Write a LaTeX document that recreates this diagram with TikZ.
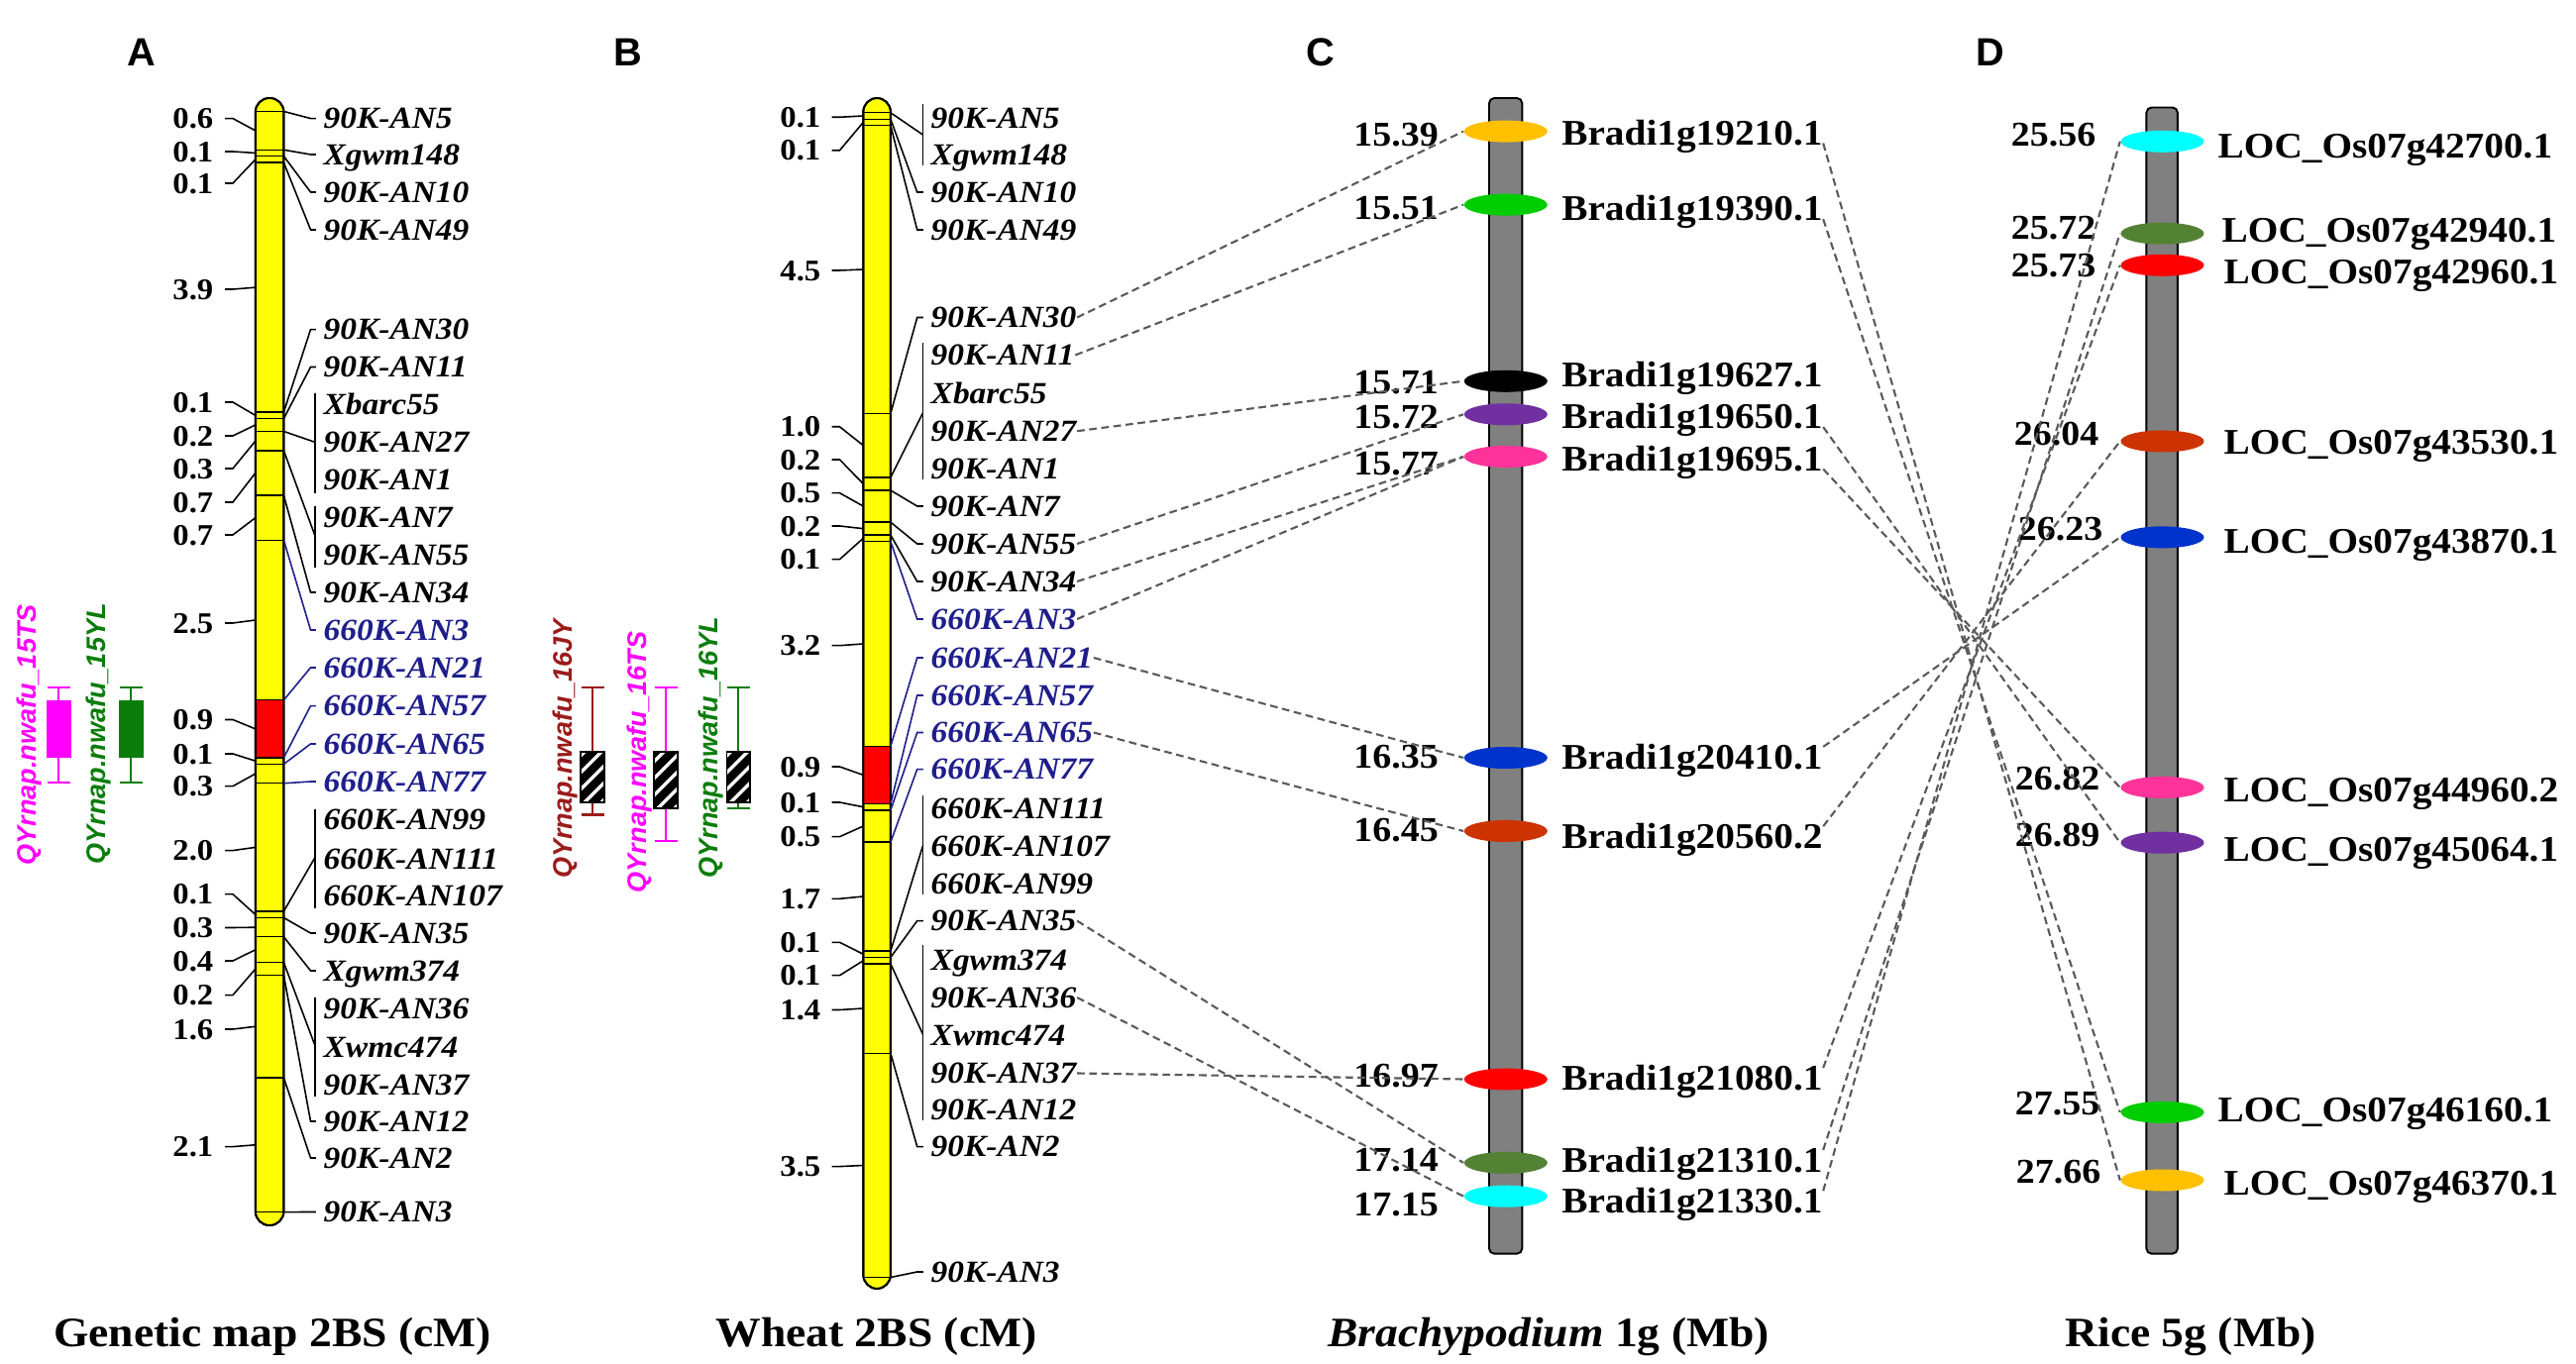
\documentclass[tikz,border=0pt]{standalone}
\usepackage{fontspec}
\setmainfont{Liberation Serif}[FakeStretch=1.08]
\newfontfamily\sansA{Liberation Sans}
\usetikzlibrary{shapes.geometric,calc}
\definecolor{mkblue}{HTML}{1E1E8C}
\definecolor{qmag}{HTML}{FF00FF}
\definecolor{qgreen}{HTML}{0B7D0B}
\definecolor{qred}{HTML}{9B1B1B}
\definecolor{chrY}{HTML}{FFFF00}
\definecolor{chrG}{HTML}{808080}
\definecolor{eOrange}{HTML}{FFC000}
\definecolor{eGreen}{HTML}{00CC00}
\definecolor{ePurple}{HTML}{7030A0}
\definecolor{ePink}{HTML}{FF3399}
\definecolor{eBlue}{HTML}{0033CC}
\definecolor{eRust}{HTML}{CC3300}
\definecolor{eRed}{HTML}{FF0000}
\definecolor{eOlive}{HTML}{548235}
\definecolor{eCyan}{HTML}{00FFFF}
\definecolor{dashgray}{HTML}{5A5A5A}
\newcommand{\hatchbox}[4]{%
  \begin{scope}
    \clip (#1,#2) rectangle (#3,#4);
    \fill[black] (#1,#2) rectangle (#3,#4);
    \foreach \k in {0,...,6} \draw[white, line width=1pt] (#1-50+\k*17,#4+3) -- ++(70,-70);
  \end{scope}
  \draw[black, line width=0.5pt] (#1,#2) rectangle (#3,#4);}
\newcommand{\whisk}[4]{% cx, top, bottom, colour
  \draw[#4, line width=0.6pt] (#1,#2) -- (#1,#3) (#1-11.5,#2) -- (#1+11.5,#2) (#1-11.5,#3) -- (#1+11.5,#3);}
\begin{document}
\begin{tikzpicture}[x=0.01cm, y=-0.01cm,
  mk/.style={font=\fontsize{8.8}{10}\selectfont\bfseries\itshape, anchor=west, inner sep=0pt, text height=5.9pt, text depth=0pt},
  lnum/.style={font=\fontsize{8.6}{10}\selectfont\bfseries, anchor=east, inner sep=0pt, text height=5.7pt, text depth=0pt},
  gnum/.style={font=\fontsize{10}{12}\selectfont\bfseries, anchor=east, inner sep=0pt, text height=6.7pt, text depth=0pt},
  gname/.style={font=\fontsize{10.35}{12}\selectfont\bfseries, anchor=west, inner sep=0pt, text height=6.9pt, text depth=0pt},
  ttl/.style={font=\fontsize{12}{14}\selectfont\bfseries, inner sep=0pt, text height=8pt, text depth=0pt},
  plab/.style={font=\sansA\fontsize{11.3}{13}\selectfont\bfseries, inner sep=0pt, text height=8.1pt, text depth=0pt},
  qlab/.style={font=\sansA\fontsize{7.7}{9}\selectfont\bfseries\itshape, rotate=90, inner sep=0pt, text height=5.5pt, text depth=0pt},
  cn/.style={line width=0.45pt},
  tk/.style={line width=0.45pt},
  band/.style={line width=0.4pt},
  chrom/.style={draw=black, line width=0.55pt},
  gene/.style={ellipse, minimum width=0.84cm, minimum height=0.22cm, inner sep=0pt},
  dl/.style={draw=dashgray, line width=0.6pt, dash pattern=on 2.2pt off 1.3pt},
]
\fill[white] (0,0) rectangle (2600,1377);
\useasboundingbox (0,0) rectangle (2600,1377);

% ---------------- panel letters and titles
\node[plab] (pA) at (143,52) {A};
\node[plab] (pB) at (634,52) {B};
\node[plab] (pC) at (1333,52) {C};
\node[plab] (pD) at (2009,52) {D};
\node[ttl] (tA) at (275,1345.4) {Genetic map 2BS (cM)};
\node[ttl] (tB) at (884.5,1345.4) {Wheat 2BS (cM)};
\node[ttl] (tC) at (1563,1345.4) {\textit{Brachypodium} 1g (Mb)};
\node[ttl] (tD) at (2211,1345.4) {Rice 5g (Mb)};

% ---------------- panel A chromosome
\draw[chrom, fill=chrY, rounded corners=4pt] (257.8,99) rectangle (286.4,1237);
\fill[red] (257.8,706.8) rectangle (286.4,765);
\foreach \y in {112.5,151.3,157.7,164.2,416.1,422.6,435.5,454.9,500.1,545.3,706.8,765,771.4,790.8,920,926.5,945.8,971.7,984.6,1088,1223.6}
  \draw[band] (257.8,\y) -- (286.4,\y);
\draw[chrom, rounded corners=4pt] (257.8,99) rectangle (286.4,1237);

\foreach \v/\ly/\my [count=\i] in {0.6/119.6/131.9, 0.1/153/154.5, 0.1/185/161, 3.9/292/290.2, 0.1/406/419.4, 0.2/440/429, 0.3/473/445.2, 0.7/507/477.5, 0.7/540/522.7, 2.5/629/626, 0.9/726.5/735.9, 0.1/761/768.2, 0.3/793.7/781.1, 2.0/858.6/855.4, 0.1/902.7/923.3, 0.3/936.5/936.2, 0.4/970/958.8, 0.2/1004.6/978.2, 1.6/1039/1036.3, 2.1/1157.6/1155.8} {
  \node[lnum] (aL\i) at (216,\ly) {\v};
  \coordinate (aLm\i) at (257.8,\my);
  \draw[tk] ($(aL\i.east)+(11,0)$) -- ++(8,0) -- (aLm\i);
}

\foreach \n/\ly/\my/\t/\c in {aM1/119.6/112.5/90K-AN5/black, aM2/156/151.3/Xgwm148/black, aM3/194/157.7/90K-AN10/black, aM4/232/164.2/90K-AN49/black, aM5/332.6/416.1/90K-AN30/black, aM6/370.5/422.6/90K-AN11/black, aM7/598/500.1/90K-AN34/black, aM8/636/545.3/660K-AN3/mkblue, aM9/674/706.8/660K-AN21/mkblue, aM10/712.6/765/660K-AN57/mkblue, aM11/751/771.4/660K-AN65/mkblue, aM12/789/790.8/660K-AN77/mkblue, aM13/942/926.5/90K-AN35/black, aM14/980/945.8/Xgwm374/black, aM15/1132/984.6/90K-AN12/black, aM16/1169/1088/90K-AN2/black, aM17/1223.5/1223.6/90K-AN3/black} {
  \node[mk, text=\c] (\n) at (326,\ly) {\t};
  \coordinate (m\n) at (286.4,\my);
  \draw[cn, draw=\c] (m\n) -- (313.5,\ly) -- ([xshift=-2pt]\n.west);
}
\foreach \n/\ly/\t in {aG1/408.5/Xbarc55, aG2/446.4/90K-AN27, aG3/484.4/90K-AN1, aG4/522.3/90K-AN7, aG5/560/90K-AN55, aG6/827.6/660K-AN99, aG7/867/660K-AN111, aG8/904/660K-AN107, aG9/1018.6/90K-AN36, aG10/1057/Xwmc474, aG11/1095/90K-AN37}
  \node[mk] (\n) at (326,\ly) {\t};
\foreach \i/\my/\cy/\top/\bot in {1/435.5/446.4/397/498, 2/454.9/541/511/573, 3/920/865.6/817/917, 4/971.7/1055.6/1007/1107} {
  \coordinate (aBm\i) at (286.4,\my);
  \coordinate (aBc\i) at (318,\cy);
  \coordinate (aBt\i) at (318,\top);
  \coordinate (aBb\i) at (318,\bot);
  \draw[cn] (aBm\i) -- (aBc\i);
  \draw[cn] (aBt\i) -- (aBb\i);
}

% QTL A
\node[qlab, text=qmag] (q1) at (27,742) {QYrnap.nwafu\_15TS};
\node[qlab, text=qgreen] (q2) at (96.4,741) {QYrnap.nwafu\_15YL};
\whisk{59}{694}{790}{qmag}
\fill[qmag] (46.5,706.6) rectangle (71.5,765);
\whisk{132}{694}{790}{qgreen}
\fill[qgreen] (119.5,706.6) rectangle (144.5,765);

% ---------------- panel B chromosome
\draw[chrom, fill=chrY, rounded corners=4pt] (871.3,99) rectangle (898.9,1301);
\fill[red] (871.3,753.3) rectangle (898.9,811.5);
\foreach \y in {113.8,120.3,126.7,417.4,482,495,527.2,540.2,546.6,753.3,811.5,817.9,850.2,960.1,966.5,973,1063.4,1289.5}
  \draw[band] (871.3,\y) -- (898.9,\y);
\draw[chrom, rounded corners=4pt] (871.3,99) rectangle (898.9,1301);

\foreach \v/\ly/\my [count=\i] in {0.1/118.3/117, 0.1/151.8/123.5, 4.5/273/272, 1.0/430.8/449.7, 0.2/464/488.5, 0.5/497.7/511, 0.2/531/533.7, 0.1/564.7/543.4, 3.2/651.7/650, 0.9/774/782.4, 0.1/810/814.7, 0.5/844.7/834, 1.7/907.3/905, 0.1/951.3/963.3, 0.1/984.7/969.8, 1.4/1019.5/1018, 3.5/1177.6/1176.5} {
  \node[lnum] (bL\i) at (829,\ly) {\v};
  \coordinate (bLm\i) at (871.3,\my);
  \draw[tk] ($(bL\i.east)+(10.5,0)$) -- ++(8,0) -- (bLm\i);
}

\foreach \n/\ly/\my/\t/\c in {bM1/194/120.3/90K-AN10/black, bM2/232/126.7/90K-AN49/black, bAN30/320.5/417.4/90K-AN30/black, bM3/511/495/90K-AN7/black, bAN55/549/527.2/90K-AN55/black, bAN34/587/540.2/90K-AN34/black, bK3/625/546.6/660K-AN3/mkblue, bK21/664/753.3/660K-AN21/mkblue, bM4/702/811.5/660K-AN57/mkblue, bK65/739.5/817.9/660K-AN65/mkblue, bM5/776.6/850.2/660K-AN77/mkblue, bAN35/929.6/966.5/90K-AN35/black, bM6/1157.6/1063.4/90K-AN2/black, bM7/1284/1289.5/90K-AN3/black} {
  \node[mk, text=\c] (\n) at (939,\ly) {\t};
  \coordinate (m\n) at (898.9,\my);
  \draw[cn, draw=\c] (m\n) -- (925.7,\ly) -- ([xshift=-2pt]\n.west);
}
\foreach \n/\ly/\t in {bG1/119.6/90K-AN5, bG2/156/Xgwm148, bAN11/358.5/90K-AN11, bG3/397.3/Xbarc55, bAN27/435.2/90K-AN27, bG4/473.2/90K-AN1, bG5/816/660K-AN111, bG6/854/660K-AN107, bG7/892/660K-AN99, bG8/969/Xgwm374, bAN36/1007/90K-AN36, bG9/1045/Xwmc474, bAN37/1083.5/90K-AN37, bG10/1120.6/90K-AN12}
  \node[mk] (\n) at (939,\ly) {\t};
\foreach \i/\my/\cy/\top/\bot in {1/113.8/136/105/167, 2/482/417/346/484, 3/960.1/854/803/903, 4/973/1044/954/1131} {
  \coordinate (bBm\i) at (898.9,\my);
  \coordinate (bBc\i) at (931.4,\cy);
  \coordinate (bBt\i) at (931.4,\top);
  \coordinate (bBb\i) at (931.4,\bot);
  \draw[cn] (bBm\i) -- (bBc\i);
  \draw[cn] (bBt\i) -- (bBb\i);
}

% QTL B
\node[qlab, text=qred] (q3) at (567.8,756) {QYrnap.nwafu\_16JY};
\node[qlab, text=qmag] (q4) at (642.5,769.5) {QYrnap.nwafu\_16TS};
\node[qlab, text=qgreen] (q5) at (715,754.7) {QYrnap.nwafu\_16YL};
\whisk{598}{694}{822.5}{qred}
\hatchbox{586}{759}{610}{810}
\whisk{672}{694}{849}{qmag}
\hatchbox{660}{759}{684}{816}
\whisk{745.4}{694}{816}{qgreen}
\hatchbox{733.5}{759}{757.3}{810}

% ---------------- panel C
\draw[chrom, fill=chrG, rounded corners=1.5pt] (1503,99) rectangle (1536.3,1265.7);
\foreach \i/\ey/\col/\num/\ny/\nm/\gy in {1/132.6/eOrange/15.39/136/Bradi1g19210.1/134, 2/206.7/eGreen/15.51/210/Bradi1g19390.1/210.7, 3/384.8/black/15.71/386/Bradi1g19627.1/378, 4/418.3/ePurple/15.72/420.6/Bradi1g19650.1/420.5, 5/461/ePink/15.77/467.4/Bradi1g19695.1/463, 6/765/eBlue/16.35/764/Bradi1g20410.1/764.5, 7/839/eRust/16.45/838/Bradi1g20560.2/844.7, 8/1089.5/eRed/16.97/1086/Bradi1g21080.1/1088.6, 9/1173.9/eOlive/17.14/1171/Bradi1g21310.1/1171.5, 10/1207.7/eCyan/17.15/1216/Bradi1g21330.1/1212.8} {
  \node[gene, fill=\col] (cE\i) at (1519.8,\ey) {};
  \node[gnum] (cN\i) at (1452.5,\ny) {\num};
  \node[gname] (cG\i) at (1575.6,\gy) {\nm};
}

% ---------------- panel D
\draw[chrom, fill=chrG, rounded corners=1.5pt] (2166.4,108.5) rectangle (2197.9,1265.7);
\foreach \i/\ey/\col/\num/\nx/\ny/\nm/\gx/\gy in {1/142.8/eCyan/25.56/2116/136/LOC\_Os07g42700.1/2238/147, 2/235.7/eOlive/25.72/2116/230/LOC\_Os07g42940.1/2242/232, 3/267.8/eRed/25.73/2116/268/LOC\_Os07g42960.1/2244/274.5, 4/445.5/eRust/26.04/2119/437.5/LOC\_Os07g43530.1/2244/446.4, 5/542.4/eBlue/26.23/2123/533.5/LOC\_Os07g43870.1/2244/546.8, 6/795/ePink/26.82/2120/785.4/LOC\_Os07g44960.2/2244/797.4, 7/850.7/ePurple/26.89/2120/842.4/LOC\_Os07g45064.1/2244/857.7, 8/1122.9/eGreen/27.55/2120/1113.6/LOC\_Os07g46160.1/2238/1120.6, 9/1191.5/eOrange/27.66/2121/1183/LOC\_Os07g46370.1/2244/1194.7} {
  \node[gene, fill=\col] (dE\i) at (2182.5,\ey) {};
  \node[gnum] (dN\i) at (\nx,\ny) {\num};
  \node[gname] (dG\i) at (\gx,\gy) {\nm};
}

% ---------------- dashed synteny lines B -> C
\draw[dl] (bAN30.east) -- (cE1.west);
\draw[dl] (bAN11.east) -- (cE2.west);
\draw[dl] (bAN27.east) -- (cE3.west);
\draw[dl] (bAN55.east) -- (cE4.west);
\draw[dl] (bAN34.east) -- (cE5.west);
\draw[dl] (bK3.east) -- (cE5.west);
\draw[dl] (bK21.east) -- (cE6.west);
\draw[dl] (bK65.east) -- (cE7.west);
\draw[dl] (bAN37.east) -- (cE8.west);
\draw[dl] (bAN35.east) -- (cE9.west);
\draw[dl] (bAN36.east) -- (cE10.west);

% ---------------- dashed synteny lines C -> D
\draw[dl] ([yshift=-3pt]cG1.east) -- (dE9.west);
\draw[dl] ([yshift=-3pt]cG2.east) -- (dE8.west);
\draw[dl] ([yshift=-3pt]cG4.east) -- (dE7.west);
\draw[dl] ([yshift=-3pt]cG5.east) -- (dE6.west);
\draw[dl] ([yshift=3pt]cG6.east) -- (dE5.west);
\draw[dl] ([yshift=3pt]cG7.east) -- (dE4.west);
\draw[dl] ([yshift=3pt]cG8.east) -- (dE3.west);
\draw[dl] ([yshift=3pt]cG9.east) -- (dE2.west);
\draw[dl] ([yshift=3pt]cG10.east) -- (dE1.west);
\end{tikzpicture}
\end{document}
